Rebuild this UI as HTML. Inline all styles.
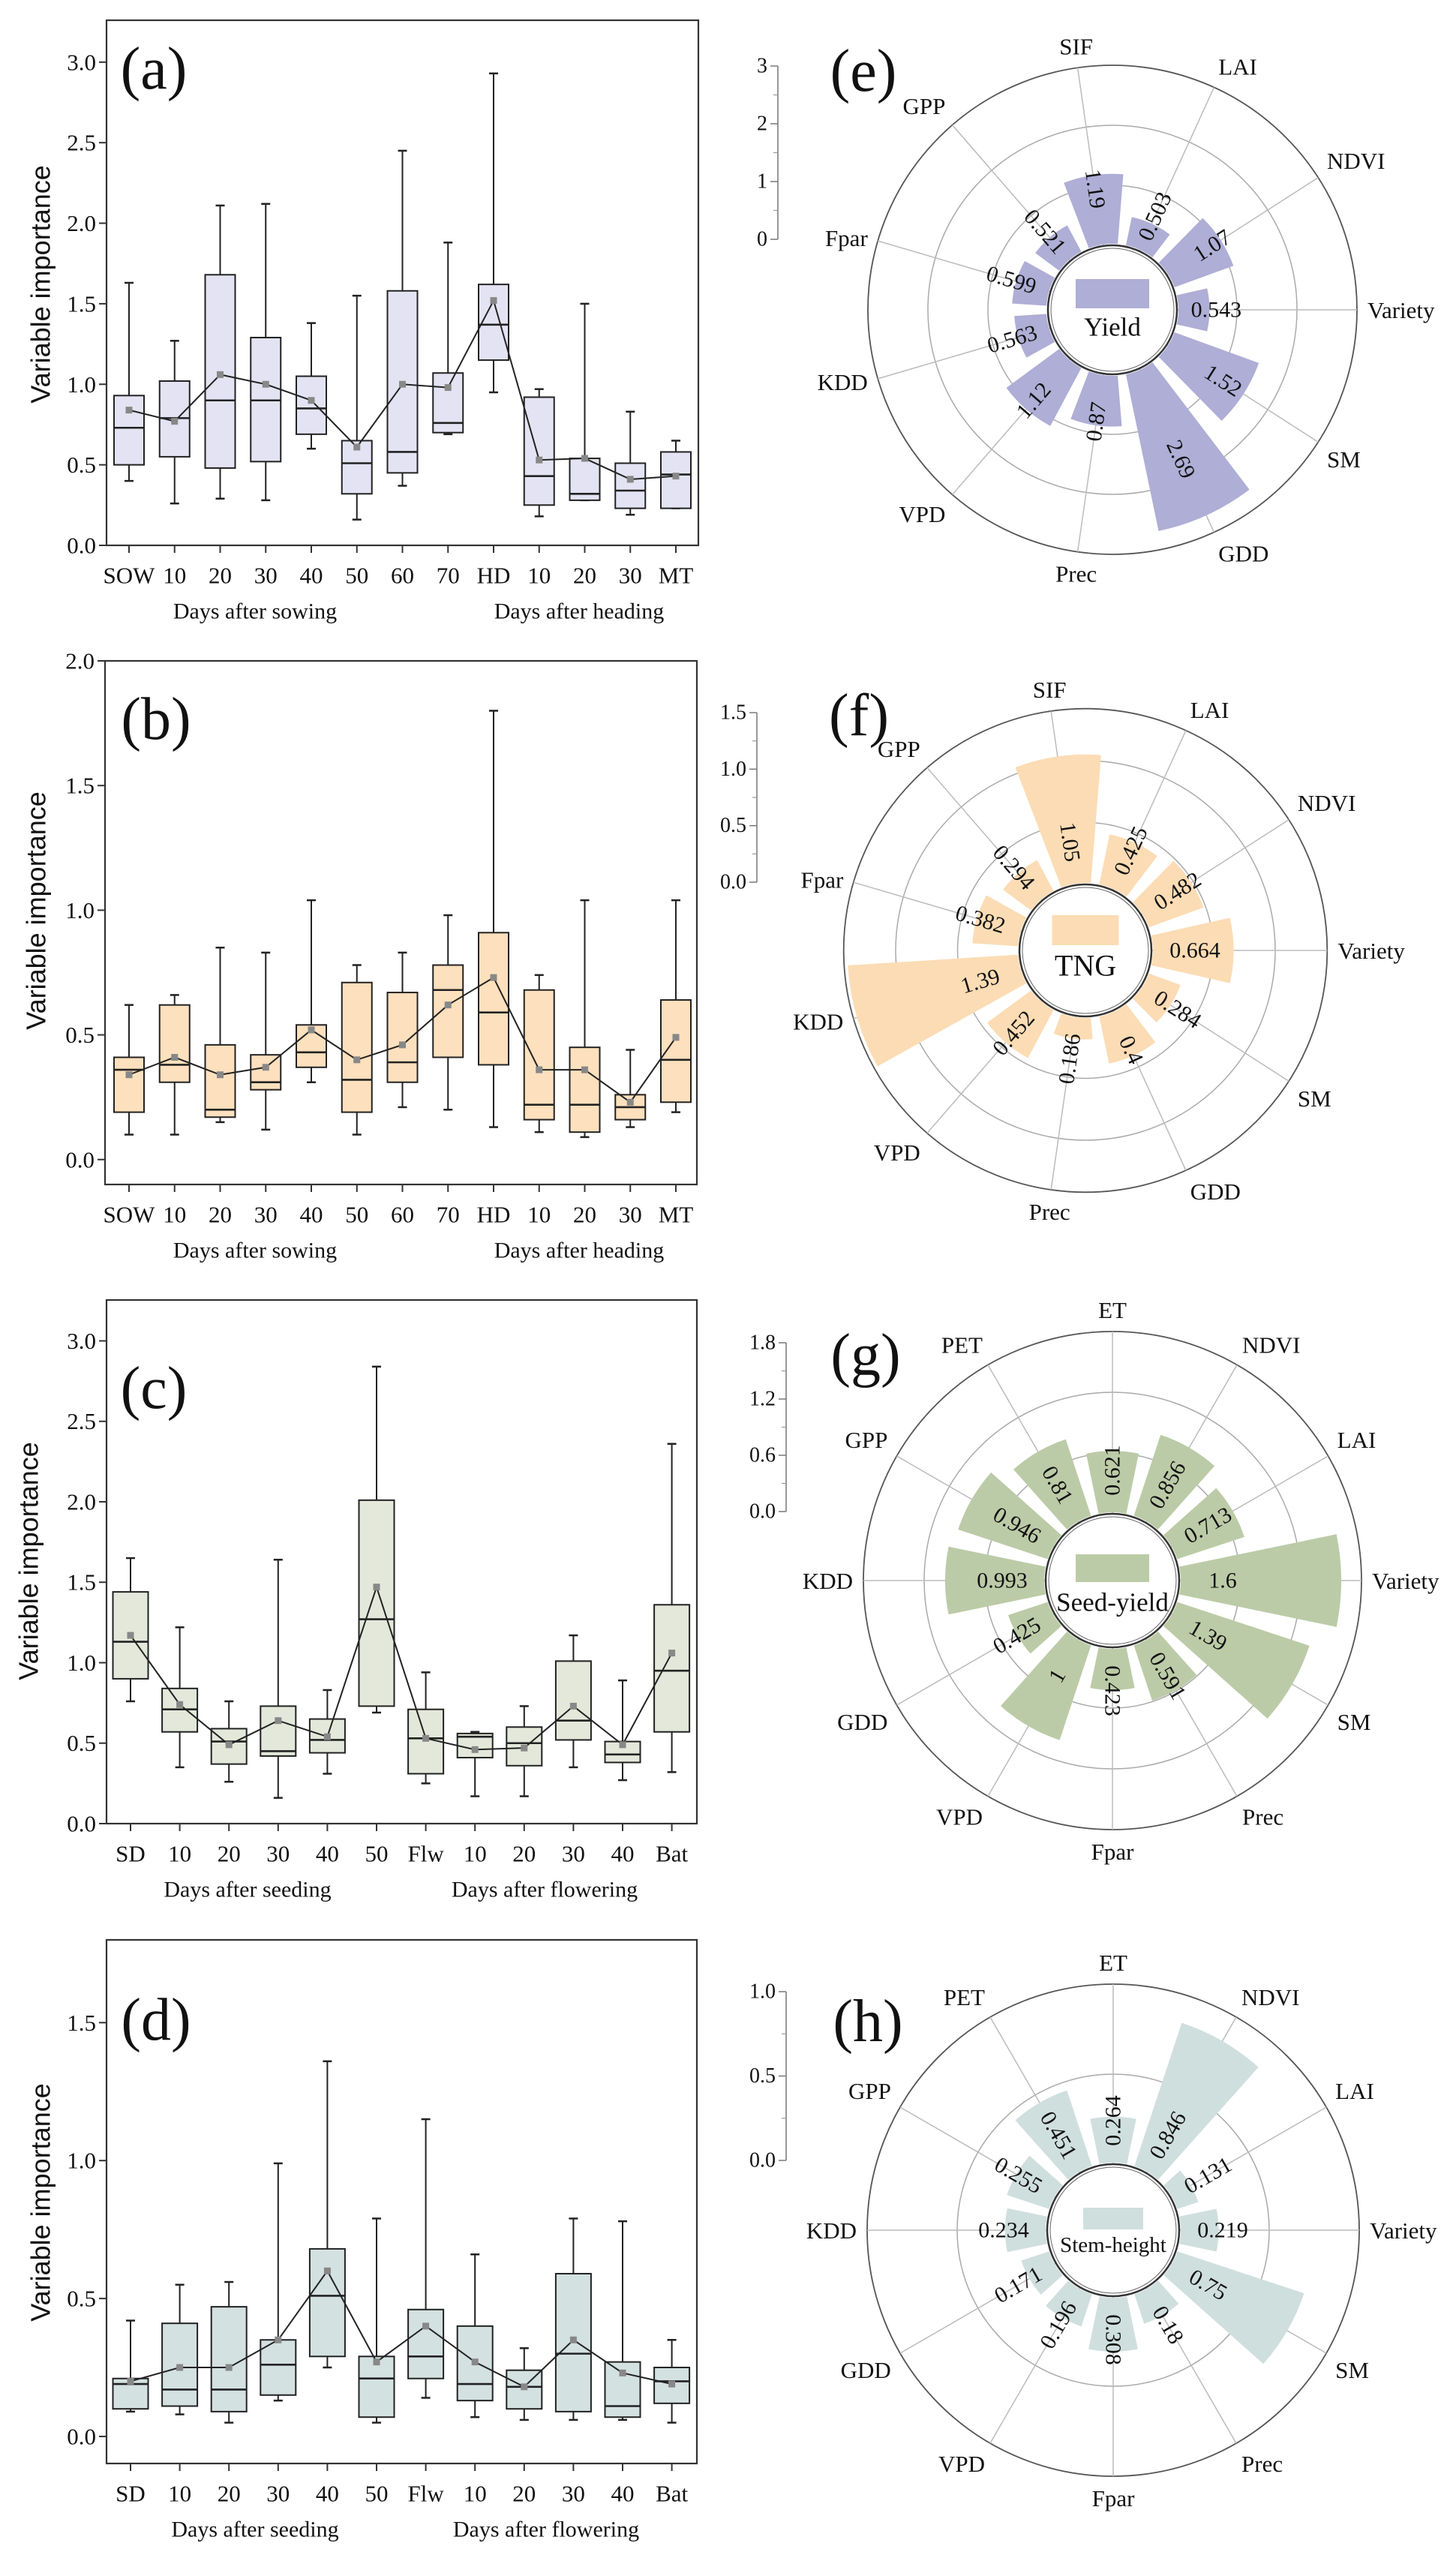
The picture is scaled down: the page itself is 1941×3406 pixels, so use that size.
<!DOCTYPE html>
<html><head><meta charset="utf-8"><title>Variable importance figure</title>
<style>
html,body{margin:0;padding:0;background:#fff;}
svg{display:block;}
text{font-family:"Liberation Serif",serif;fill:#111;}
.sans{font-family:"Liberation Sans",sans-serif;}
</style></head>
<body>
<svg id="fig" xmlns="http://www.w3.org/2000/svg" width="1941" height="3406" viewBox="0 0 1941 3406"></svg>
<script>
// ---------- Box plot data ----------
const catsAB = ["SOW","10","20","30","40","50","60","70","HD","10","20","30","MT"];
const catsCD = ["SD","10","20","30","40","50","Flw","10","20","30","40","Bat"];

const aHi   = [1.63,1.27,2.11,2.12,1.38,1.55,2.45,1.88,2.93,0.97,1.50,0.83,0.65];
const aQ3   = [0.93,1.02,1.68,1.29,1.05,0.65,1.58,1.07,1.62,0.92,0.54,0.51,0.58];
const aMed  = [0.73,0.79,0.90,0.90,0.85,0.51,0.58,0.76,1.37,0.43,0.32,0.34,0.44];
const aQ1   = [0.50,0.55,0.48,0.52,0.69,0.32,0.45,0.70,1.15,0.25,0.28,0.23,0.23];
const aLo   = [0.40,0.26,0.29,0.28,0.60,0.16,0.37,0.69,0.95,0.18,0.28,0.19,0.23];
const aMean = [0.84,0.77,1.06,1.00,0.90,0.61,1.00,0.98,1.52,0.53,0.54,0.41,0.43];

const bHi   = [0.62,0.66,0.85,0.83,1.04,0.78,0.83,0.98,1.80,0.74,1.04,0.44,1.04];
const bQ3   = [0.41,0.62,0.46,0.42,0.54,0.71,0.67,0.78,0.91,0.68,0.45,0.26,0.64];
const bMed  = [0.36,0.38,0.20,0.31,0.43,0.32,0.39,0.68,0.59,0.22,0.22,0.21,0.40];
const bQ1   = [0.19,0.31,0.17,0.28,0.37,0.19,0.31,0.41,0.38,0.16,0.11,0.16,0.23];
const bLo   = [0.10,0.10,0.15,0.12,0.31,0.10,0.21,0.20,0.13,0.11,0.09,0.13,0.19];
const bMean = [0.34,0.41,0.34,0.37,0.52,0.40,0.46,0.62,0.73,0.36,0.36,0.23,0.49];

const cHi   = [1.65,1.22,0.76,1.64,0.83,2.84,0.94,0.57,0.73,1.17,0.89,2.36];
const cQ3   = [1.44,0.84,0.59,0.73,0.65,2.01,0.71,0.56,0.60,1.01,0.51,1.36];
const cMed  = [1.13,0.71,0.51,0.45,0.52,1.27,0.53,0.54,0.50,0.64,0.43,0.95];
const cQ1   = [0.90,0.57,0.37,0.42,0.44,0.73,0.31,0.41,0.36,0.52,0.38,0.57];
const cLo   = [0.76,0.35,0.26,0.16,0.31,0.69,0.25,0.17,0.17,0.35,0.27,0.32];
const cMean = [1.17,0.74,0.49,0.64,0.54,1.47,0.53,0.46,0.47,0.73,0.49,1.06];

const dHi   = [0.42,0.55,0.56,0.99,1.36,0.79,1.15,0.66,0.32,0.79,0.78,0.35];
const dQ3   = [0.21,0.41,0.47,0.35,0.68,0.29,0.46,0.40,0.24,0.59,0.27,0.25];
const dMed  = [0.19,0.17,0.17,0.26,0.51,0.21,0.29,0.19,0.18,0.30,0.11,0.20];
const dQ1   = [0.10,0.11,0.09,0.15,0.29,0.07,0.21,0.13,0.10,0.09,0.07,0.12];
const dLo   = [0.09,0.08,0.05,0.13,0.25,0.05,0.14,0.07,0.06,0.06,0.06,0.05];
const dMean = [0.20,0.25,0.25,0.35,0.60,0.27,0.40,0.27,0.18,0.35,0.23,0.19];

const ticksA = ["0.0","0.5","1.0","1.5","2.0","2.5","3.0"];
const ticksB = ["0.0","0.5","1.0","1.5","2.0"];
const ticksC = ["0.0","0.5","1.0","1.5","2.0","2.5","3.0"];
const ticksD = ["0.0","0.5","1.0","1.5"];

// ---------- Polar data ----------
const catsEF = ["SIF","LAI","NDVI","Variety","SM","GDD","Prec","VPD","KDD","Fpar","GPP"];
const catsGH = ["ET","NDVI","LAI","Variety","SM","Prec","Fpar","VPD","GDD","KDD","GPP","PET"];
const eVals = [1.19,0.503,1.07,0.543,1.52,2.69,0.87,1.12,0.563,0.599,0.521];
const fVals = [1.05,0.425,0.482,0.664,0.284,0.4,0.186,0.452,1.39,0.382,0.294];
const gVals = [0.621,0.856,0.713,1.6,1.39,0.591,0.423,1,0.425,0.993,0.946,0.81];
const hVals = [0.264,0.846,0.131,0.219,0.75,0.18,0.308,0.196,0.171,0.234,0.255,0.451];
const eAxis = ["0","1","2","3"];
const fAxis = ["0.0","0.5","1.0","1.5"];
const gAxis = ["0.0","0.6","1.2","1.8"];
const hAxis = ["0.0","0.5","1.0"];

const NS = "http://www.w3.org/2000/svg";
const svg = document.getElementById("fig");
function mk(tag, attrs, parent){
  const e = document.createElementNS(NS, tag);
  for (const k in attrs) e.setAttribute(k, attrs[k]);
  (parent||svg).appendChild(e);
  return e;
}
function txt(str, attrs, parent){ const t = mk("text", attrs, parent); t.textContent = str; return t; }

function boxPanel(id, L, cats, hi, q3, med, q1, lo, mean, ticks){
  const g = mk("g", {});
  
  
  const y = v => L.bottom - (v - L.ymin) / (L.ymax - L.ymin) * (L.bottom - L.top);
  const x = i => L.x0 + i * L.dx;
  const frame = mk("rect", {x:L.left, y:L.top, width:L.right-L.left, height:L.bottom-L.top, fill:"none", stroke:"#333", "stroke-width":2.2}, g);
  
  
  // y ticks
  ticks.forEach(t => {
    const yy = y(parseFloat(t));
    mk("line", {x1:L.left-10, x2:L.left, y1:yy, y2:yy, stroke:"#333", "stroke-width":2}, g);
    const tl = txt(t, {x:L.left-14, y:yy, "text-anchor":"end", "dominant-baseline":"central", "font-size":31}, g);
    
    
  });
  // x ticks
  cats.forEach((c,i) => {
    mk("line", {x1:x(i), x2:x(i), y1:L.bottom, y2:L.bottom+10, stroke:"#333", "stroke-width":2}, g);
    const xl = txt(c, {x:x(i), y:L.bottom+40, "text-anchor":"middle", "dominant-baseline":"central", "font-size":31}, g);
    
    
  });
  // boxes
  cats.forEach((c,i) => {
    const bg = mk("g", {}, g);
    
    
    const cx = x(i), hw = L.boxW/2;
    mk("line", {x1:cx, x2:cx, y1:y(hi[i]), y2:y(q3[i]), stroke:"#222", "stroke-width":2}, bg);
    mk("line", {x1:cx, x2:cx, y1:y(q1[i]), y2:y(lo[i]), stroke:"#222", "stroke-width":2}, bg);
    mk("line", {x1:cx-6, x2:cx+6, y1:y(hi[i]), y2:y(hi[i]), stroke:"#222", "stroke-width":2.5}, bg);
    mk("line", {x1:cx-6, x2:cx+6, y1:y(lo[i]), y2:y(lo[i]), stroke:"#222", "stroke-width":2.5}, bg);
    mk("rect", {x:cx-hw, y:y(q3[i]), width:L.boxW, height:Math.max(1,y(q1[i])-y(q3[i])), fill:L.fill, stroke:"#222", "stroke-width":2}, bg);
    mk("line", {x1:cx-hw, x2:cx+hw, y1:y(med[i]), y2:y(med[i]), stroke:"#222", "stroke-width":2.6}, bg);
  });
  // mean line
  const pts = mean.map((m,i) => x(i) + "," + y(m)).join(" ");
  const pl = mk("polyline", {points:pts, fill:"none", stroke:"#222", "stroke-width":2}, g);
  
  
  mean.forEach((m,i) => {
    const s = mk("rect", {x:x(i)-4.5, y:y(m)-4.5, width:9, height:9, fill:"#888"}, g);
    
    
  });
  // labels
  const pn = txt("(" + id + ")", {x:L.lx, y:L.ly, "text-anchor":"middle", "dominant-baseline":"central", "font-size":80}, g);
  
  
  const yt = txt("Variable importance", {x:L.tx, y:L.ty, "text-anchor":"middle", "dominant-baseline":"central", "font-size":36, "class":"sans", transform:"rotate(-90 " + L.tx + " " + L.ty + ")"}, g);
  
  
  const g1 = txt(L.g1, {x:L.g1x, y:L.bottom+88, "text-anchor":"middle", "dominant-baseline":"central", "font-size":30}, g);
  
  
  const g2 = txt(L.g2, {x:L.g2x, y:L.bottom+88, "text-anchor":"middle", "dominant-baseline":"central", "font-size":30}, g);
  
  
}

boxPanel("a", {left:142,right:931,top:27,bottom:727,ymin:0,ymax:3.26,x0:172,dx:60.75,boxW:40,fill:"#e4e3f3",lx:205,ly:92,tx:54,ty:379,g1:"Days after sowing",g1x:340,g2:"Days after heading",g2x:772}, catsAB,aHi,aQ3,aMed,aQ1,aLo,aMean,ticksA);
boxPanel("b", {left:140,right:929,top:881,bottom:1579,ymin:-0.1,ymax:2.0,x0:172,dx:60.75,boxW:40,fill:"#fde0bd",lx:208,ly:959,tx:48,ty:1214,g1:"Days after sowing",g1x:340,g2:"Days after heading",g2x:772}, catsAB,bHi,bQ3,bMed,bQ1,bLo,bMean,ticksB);
boxPanel("c", {left:142,right:929,top:1733,bottom:2431,ymin:0,ymax:3.254,x0:174,dx:65.6,boxW:47,fill:"#e3e8da",lx:205,ly:1851,tx:38,ty:2081,g1:"Days after seeding",g1x:330,g2:"Days after flowering",g2x:726}, catsCD,cHi,cQ3,cMed,cQ1,cLo,cMean,ticksC);
boxPanel("d", {left:142,right:929,top:2586,bottom:3284,ymin:-0.098,ymax:1.80,x0:174,dx:65.6,boxW:47,fill:"#d3e1e0",lx:208,ly:2693,tx:54,ty:2936,g1:"Days after seeding",g1x:340,g2:"Days after flowering",g2x:728}, catsCD,dHi,dQ3,dMed,dQ1,dLo,dMean,ticksD);

function polarPanel(id, P, cats, vals, axisLabels){
  const g = mk("g", {});
  
  
  const n = cats.length, step = 360 / n;
  const ang = i => P.a0 + i * step;
  const rad = d => d * Math.PI / 180;
  const px = (r,t) => P.cx + r * Math.sin(rad(t));
  const py = (r,t) => P.cy - r * Math.cos(rad(t));
  const rv = v => P.hole + v * P.k;
  const outer = rv(P.outerVal);
  // grid circles
  P.grids.forEach(gv => {
    const c = mk("circle", {cx:P.cx, cy:P.cy, r:rv(gv), fill:"none", stroke:"#aaa", "stroke-width":1.5}, g);
    
    
  });
  const oc = mk("circle", {cx:P.cx, cy:P.cy, r:outer, fill:"none", stroke:"#555", "stroke-width":1.8}, g);
  
  
  // spokes & category labels
  cats.forEach((c,i) => {
    const t = ang(i);
    mk("line", {x1:px(P.hole,t), y1:py(P.hole,t), x2:px(outer,t), y2:py(outer,t), stroke:"#bbb", "stroke-width":1.5}, g);
    const s = Math.sin(rad(t)), co = Math.cos(rad(t));
    const ra = outer + 14;
    let anchor = "middle"; if (s > 0.3) anchor = "start"; else if (s < -0.3) anchor = "end";
    let dy = 11; if (co > 0.3) dy = -4; else if (co < -0.3) dy = 26;
    const cl = txt(c, {x:px(ra,t), y:py(ra,t)+dy, "text-anchor":anchor, "font-size":31}, g);
    
    
  });
  // bars
  vals.forEach((v,i) => {
    const t = ang(i), w = step * 0.39;
    const r0 = P.hole + 2, r1 = rv(v);
    const ta = t - w, tb = t + w;
    const d = "M" + px(r0,ta) + " " + py(r0,ta) + " L" + px(r1,ta) + " " + py(r1,ta) +
      " A" + r1 + " " + r1 + " 0 0 1 " + px(r1,tb) + " " + py(r1,tb) +
      " L" + px(r0,tb) + " " + py(r0,tb) +
      " A" + r0 + " " + r0 + " 0 0 0 " + px(r0,ta) + " " + py(r0,ta) + " Z";
    const b = mk("path", {d:d, fill:P.color}, g);
    
    
  });
  // value labels
  vals.forEach((v,i) => {
    const t = ang(i);
    const tn = ((t % 360) + 360) % 360;
    const rot = tn <= 180 ? tn - 90 : tn + 90;
    const rl = P.labelMode === "scaled" ? P.hole + 32 + 0.47 * v * P.k : P.hole + 58;
    const lx = px(rl,t), ly = py(rl,t);
    const vl = txt(String(v), {x:lx, y:ly, "text-anchor":"middle", "dominant-baseline":"central", "font-size":30, transform:"rotate(" + rot + " " + lx + " " + ly + ")"}, g);
    
    
  });
  // hole
  const hc = mk("circle", {cx:P.cx, cy:P.cy, r:P.hole, fill:"#fff", stroke:"#333", "stroke-width":2.5}, g);
  
  
  mk("circle", {cx:P.cx, cy:P.cy, r:P.hole-4, fill:"none", stroke:"#666", "stroke-width":1}, g);
  // legend
  const lr = mk("rect", {x:P.cx-P.lw/2, y:P.cy+P.lt, width:P.lw, height:P.lh, fill:P.color}, g);
  
  
  const lt = txt(P.name, {x:P.cx, y:P.cy+P.ty, "text-anchor":"middle", "dominant-baseline":"central", "font-size":P.tf}, g);
  
  
  // radial axis
  const ax = mk("line", {x1:P.ax, x2:P.ax, y1:P.ay0, y2:P.ay1, stroke:"#777", "stroke-width":1.5}, g);
  
  
  const nt = axisLabels.length;
  axisLabels.forEach((a,j) => {
    const yy = P.ay0 + (P.ay1 - P.ay0) * j / (nt - 1);
    mk("line", {x1:P.ax-10, x2:P.ax, y1:yy, y2:yy, stroke:"#777", "stroke-width":1.5}, g);
    if (j < nt - 1) {
      const ym = P.ay0 + (P.ay1 - P.ay0) * (j + 0.5) / (nt - 1);
      mk("line", {x1:P.ax-6, x2:P.ax, y1:ym, y2:ym, stroke:"#999", "stroke-width":1.2}, g);
    }
    const al = txt(a, {x:P.ax-14, y:yy, "text-anchor":"end", "dominant-baseline":"central", "font-size":28}, g);
    
    
  });
  const pn = txt("(" + id + ")", {x:P.lx, y:P.ly, "text-anchor":"middle", "dominant-baseline":"central", "font-size":80}, g);
  
  
}

const a0EF = 90 - 3 * 360 / 11;
polarPanel("e", {cx:1483,cy:413,hole:86,k:80,outerVal:3.0,grids:[1,2],color:"#aeaed6",a0:a0EF,labelMode:"scaled",lw:98,lh:39,lt:-41,ty:23,tf:35,name:"Yield",ax:1037,ay0:319,ay1:88,lx:1151,ly:95}, catsEF, eVals, eAxis);
polarPanel("f", {cx:1447,cy:1267,hole:88,k:165,outerVal:1.42,grids:[0.5,1.0],color:"#fcdcb4",a0:a0EF,labelMode:"fixed",lw:89,lh:40,lt:-47,ty:20,tf:40,name:"TNG",ax:1009,ay0:1176,ay1:950,lx:1145,ly:954}, catsEF, fVals, fAxis);
polarPanel("g", {cx:1483,cy:2107,hole:89,k:135,outerVal:1.8,grids:[0.6,1.2],color:"#bccba7",a0:0,labelMode:"fixed",lw:98,lh:37,lt:-35,ty:29,tf:35,name:"Seed-yield",ax:1048,ay0:2015,ay1:1790,lx:1154,ly:1807}, catsGH, gVals, gAxis);
polarPanel("h", {cx:1484,cy:2973,hole:88,k:240,outerVal:1.0,grids:[0.5],color:"#cfdfdd",a0:0,labelMode:"fixed",lw:80,lh:29,lt:-30,ty:20,tf:29,name:"Stem-height",ax:1048,ay0:2880,ay1:2655,lx:1157,ly:2695}, catsGH, hVals, hAxis);
</script>
</body></html>
